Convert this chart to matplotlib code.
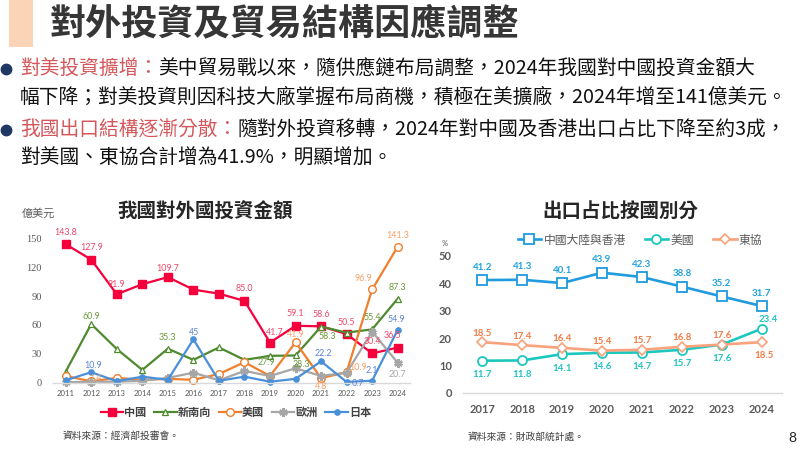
import matplotlib
matplotlib.use('Agg')
import matplotlib.pyplot as plt
from matplotlib.lines import Line2D
from matplotlib.patches import Rectangle

CJK = ['Noto Sans CJK TC', 'DejaVu Sans']
NUM = ['Lato', 'DejaVu Sans']
plt.rcParams['font.family'] = CJK

# ---------------- data ----------------
inv_years = [2011, 2012, 2013, 2014, 2015, 2016, 2017, 2018, 2019, 2020, 2021, 2022, 2023, 2024]
inv_china = [143.8, 127.9, 91.9, 102.3, 109.7, 96.7, 92.5, 85.0, 41.7, 59.1, 58.6, 50.5, 30.4, 36.5]
inv_nsb = [11.5, 60.9, 35.0, 13.3, 35.3, 23.7, 36.6, 23.7, 27.9, 28.3, 58.3, 52.0, 55.4, 87.3]
inv_us = [7.0, 1.4, 5.0, 3.0, 4.0, 3.0, 9.0, 21.3, 7.0, 41.9, 4.8, 10.9, 96.9, 141.3]
inv_eu = [0.5, 1.0, 1.0, 2.0, 5.0, 10.4, 2.5, 12.2, 7.0, 15.0, 7.0, 10.4, 53.0, 20.7]
inv_jp = [2.5, 10.9, 1.5, 6.3, 3.0, 45.0, 2.0, 6.3, 1.0, 4.0, 22.2, 0.7, 2.1, 54.9]
inv_names = ['中國', '新南向', '美國', '歐洲', '日本']
inv_yticks = [0, 30, 60, 90, 120, 150]

exp_years = [2017, 2018, 2019, 2020, 2021, 2022, 2023, 2024]
exp_china = [41.2, 41.3, 40.1, 43.9, 42.3, 38.8, 35.2, 31.7]
exp_us = [11.7, 11.8, 14.1, 14.6, 14.7, 15.7, 17.6, 23.4]
exp_asean = [18.5, 17.4, 16.4, 15.4, 15.7, 16.8, 17.6, 18.5]
exp_names = ['中國大陸與香港', '美國', '東協']
exp_yticks = [0, 10, 20, 30, 40, 50]

# label placement (pixel offsets dx, dy-up) -- styling only
lab_china = {2011: (0, 12), 2012: (0, 12), 2013: (0, 10), 2015: (0, 9), 2018: (0, 12),
             2019: (5, 10), 2020: (0, 12), 2021: (0, 12), 2022: (0, 12), 2023: (0, 12), 2024: (-5, 12)}
lab_nsb = {2012: (0, 8), 2015: (0, 11), 2019: (-4, -7), 2020: (6, -9), 2021: (6, -10),
           2023: (0, 12), 2024: (0, 11)}
lab_us = {2012: (4, 3), 2020: (0, 8), 2021: (0, -8), 2022: (11, 5), 2023: (-9, 11), 2024: (0, 11)}
lab_jp = {2012: (2, 7), 2016: (1, 7), 2021: (2, 8), 2022: (11, -1), 2023: (0, 10), 2024: (-1, 10)}
lab_eu = {2024: (0, -12)}

W, H = 800, 449
fig = plt.figure(figsize=(W / 100, H / 100), dpi=100)
fig.patch.set_facecolor('white')


def fx(x):
    return x / W


def fy(y):
    return 1 - y / H


# ---------------- header ----------------
fig.add_artist(Rectangle((fx(9), fy(47)), fx(24), 47 / H, transform=fig.transFigure,
                         facecolor='#FBD3B7', edgecolor='none'))
fig.text(fx(50), fy(24), '對外投資及貿易結構因應調整', fontsize=26, fontweight='bold',
         color='#363636', va='center', ha='left', family=CJK)

fig.canvas.draw()
renderer = fig.canvas.get_renderer()
BODY = 14.2
RED = '#D5575B'


def two_part(x, y, head, rest):
    t = fig.text(fx(x), fy(y), head, fontsize=BODY, color=RED, va='center', ha='left', family=CJK)
    bb = t.get_window_extent(renderer=renderer)
    fig.text(bb.x1 / W, fy(y), rest, fontsize=BODY, color='#111111', va='center', ha='left', family=CJK)


for by in (69, 130):
    fig.add_artist(Line2D([fx(6)], [fy(by)], marker='o', markersize=7.5, color='#1F3864',
                          transform=fig.transFigure))

two_part(20, 69, '對美投資擴增：', '美中貿易戰以來，隨供應鏈布局調整，2024年我國對中國投資金額大')
fig.text(fx(20), fy(97), '幅下降；對美投資則因科技大廠掌握布局商機，積極在美擴廠，2024年增至141億美元。',
         fontsize=BODY, color='#111111', va='center', ha='left', family=CJK)
two_part(20, 130, '我國出口結構逐漸分散：', '隨對外投資移轉，2024年對中國及香港出口占比下降至約3成，')
fig.text(fx(20), fy(158), '對美國、東協合計增為41.9%，明顯增加。',
         fontsize=BODY, color='#111111', va='center', ha='left', family=CJK)

# ---------------- left chart ----------------
L0, L1 = 53, 410
B0, T0 = 382.7, 230.6
ax1 = fig.add_axes([fx(L0), fy(B0), (L1 - L0) / W, (B0 - T0) / H])
ppu = (382.7 - 238.3) / 150.0
ax1.set_ylim(0, (B0 - T0) / ppu)
step = (397.7 - 65.7) / 13
ax1.set_xlim(2011 - (65.7 - L0) / step, 2024 + (L1 - 397.7) / step)

series = [
    (inv_china, '#F5003D', dict(marker='s', markersize=5.5, markerfacecolor='#F5003D', markeredgecolor='#F5003D'), '#F2476A', lab_china),
    (inv_nsb, '#4E8A2E', dict(marker='^', markersize=4.5, markerfacecolor='white', markeredgecolor='#4E8A2E', markeredgewidth=0.9), '#6A9A3A', lab_nsb),
    (inv_us, '#F07F2E', dict(marker='o', markersize=5.5, markerfacecolor='white', markeredgecolor='#F07F2E', markeredgewidth=1.0), '#F4A066', lab_us),
    (inv_eu, '#A6A6A6', dict(marker=(6, 2, 0), markersize=6, markeredgecolor='#A6A6A6', markeredgewidth=1.8), '#A6A6A6', lab_eu),
    (inv_jp, '#4A90D9', dict(marker='o', markersize=3.8, markerfacecolor='#4A90D9', markeredgecolor='#4A90D9'), '#5B82D6', lab_jp),
]
handles = []
for (vals, col, mk, lcol, labs), name in zip(series, inv_names):
    h, = ax1.plot(inv_years, vals, color=col, linewidth=1.6, clip_on=False, label=name, **mk)
    handles.append(h)
    for yr, (dx, dy) in labs.items():
        v = vals[inv_years.index(yr)]
        txt = ('%g' % v) if v == int(v) and yr == 2016 else ('%.1f' % v)
        ax1.annotate(txt, (yr, v), xytext=(dx * 0.72, dy * 0.72), textcoords='offset points',
                     ha='center', va='center', fontsize=6.4, color=lcol, family=NUM, zorder=5)

ax1.set_xticks(inv_years)
ax1.set_xticklabels([str(y) for y in inv_years], fontsize=5.6, color='#595959', family=NUM)
ax1.set_yticks(inv_yticks)
ax1.set_yticklabels([str(v) for v in inv_yticks], fontsize=7.5, color='#595959', family='Liberation Serif')
ax1.tick_params(axis='both', length=0)
ax1.tick_params(axis='y', pad=8)
ax1.tick_params(axis='x', pad=5)
for s in ['top', 'right', 'left']:
    ax1.spines[s].set_visible(False)
ax1.spines['bottom'].set_color('#D9D9D9')
ax1.spines['bottom'].set_linewidth(1)
ax1.set_facecolor('none')

fig.text(fx(22), fy(214), '億美元', fontsize=8, color='#595959', va='center', ha='left', family=CJK)
fig.text(fx(205), fy(212), '我國對外國投資金額', fontsize=14, fontweight='bold', color='#262626',
         va='center', ha='center', family=CJK)
leg1 = ax1.legend(handles=handles, loc='center', bbox_to_anchor=(fx(236), fy(412.5)),
                  bbox_transform=fig.transFigure, ncol=5, frameon=False, handlelength=2.0,
                  handletextpad=0.1, columnspacing=0.7, prop={'family': CJK, 'size': 8, 'weight': 'bold'})
for t in leg1.get_texts():
    t.set_color('#404040')
fig.text(fx(63), fy(435.5), '資料來源：經濟部投審會。', fontsize=7, color='#404040', va='center', ha='left', family=CJK)

# ---------------- right chart ----------------
R0, R1 = 463, 781.7
RB, RT = 392.7, 250
ax2 = fig.add_axes([fx(R0), fy(RB), (R1 - R0) / W, (RB - RT) / H])
ppu2 = (392.7 - 256) / 50.0
ax2.set_ylim(0, (RB - RT) / ppu2)
step2 = (761.7 - 482.3) / 7
ax2.set_xlim(2017 - (482.3 - R0) / step2, 2024 + (R1 - 761.7) / step2)

h_c, = ax2.plot(exp_years, exp_china, color='#1F9BDE', linewidth=1.9, marker='s', markersize=6.5,
                markerfacecolor='white', markeredgecolor='#1F9BDE', markeredgewidth=1.3, label=exp_names[0], clip_on=False)
h_u, = ax2.plot(exp_years, exp_us, color='#1CC7C0', linewidth=1.9, marker='o', markersize=6.5,
                markerfacecolor='white', markeredgecolor='#1CC7C0', markeredgewidth=1.3, label=exp_names[1], clip_on=False)
h_a, = ax2.plot(exp_years, exp_asean, color='#F9A27C', linewidth=1.9, marker='D', markersize=5,
                markerfacecolor='white', markeredgecolor='#F9A27C', markeredgewidth=1.2, label=exp_names[2], clip_on=False)

for yr, v in zip(exp_years, exp_china):
    ax2.annotate('%.1f' % v, (yr, v), xytext=(0, 13 * 0.72), textcoords='offset points', ha='center',
                 va='center', fontsize=7, fontweight='bold', color='#1FA3E0', family=NUM)
for yr, v in zip(exp_years, exp_us):
    off = (7, 9) if yr == 2024 else (0, -14)
    ax2.annotate('%.1f' % v, (yr, v), xytext=(off[0] * 0.72, off[1] * 0.72), textcoords='offset points',
                 ha='center', va='center', fontsize=7, fontweight='bold', color='#22C3C3', family=NUM)
for yr, v in zip(exp_years, exp_asean):
    off = (2, -13) if yr == 2024 else (0, 9)
    ax2.annotate('%.1f' % v, (yr, v), xytext=(off[0] * 0.72, off[1] * 0.72), textcoords='offset points',
                 ha='center', va='center', fontsize=7, fontweight='bold', color='#F27A45', family=NUM)

ax2.set_xticks(exp_years)
ax2.set_xticklabels([str(y) for y in exp_years], fontsize=8, fontweight='bold', color='#595959', family=NUM)
ax2.set_yticks(exp_yticks)
ax2.set_yticklabels([str(v) for v in exp_yticks], fontsize=8, fontweight='bold', color='#595959', family=NUM)
ax2.tick_params(axis='both', length=0)
ax2.tick_params(axis='y', pad=8)
ax2.tick_params(axis='x', pad=8)
for s in ['top', 'right', 'left']:
    ax2.spines[s].set_visible(False)
ax2.spines['bottom'].set_color('#D9D9D9')
ax2.spines['bottom'].set_linewidth(1)
ax2.set_facecolor('none')

fig.text(fx(445), fy(243.5), '%', fontsize=5.5, color='#595959', va='center', ha='center', family=NUM)
fig.text(fx(620), fy(211), '出口占比按國別分', fontsize=14, fontweight='bold', color='#262626',
         va='center', ha='center', family=CJK)
leg2 = ax2.legend(handles=[h_c, h_u, h_a], loc='center', bbox_to_anchor=(fx(640), fy(240)),
                  bbox_transform=fig.transFigure, ncol=3, frameon=False, handlelength=2.0,
                  handletextpad=0.2, columnspacing=1.6, prop={'family': CJK, 'size': 8.5})
for t in leg2.get_texts():
    t.set_color('#595959')
fig.text(fx(468), fy(436.5), '資料來源：財政部統計處。', fontsize=7, color='#404040', va='center', ha='left', family=CJK)
fig.text(fx(792), fy(438), '8', fontsize=10, color='#262626', va='center', ha='center', family=NUM)

fig.savefig('out.png', dpi=100)
